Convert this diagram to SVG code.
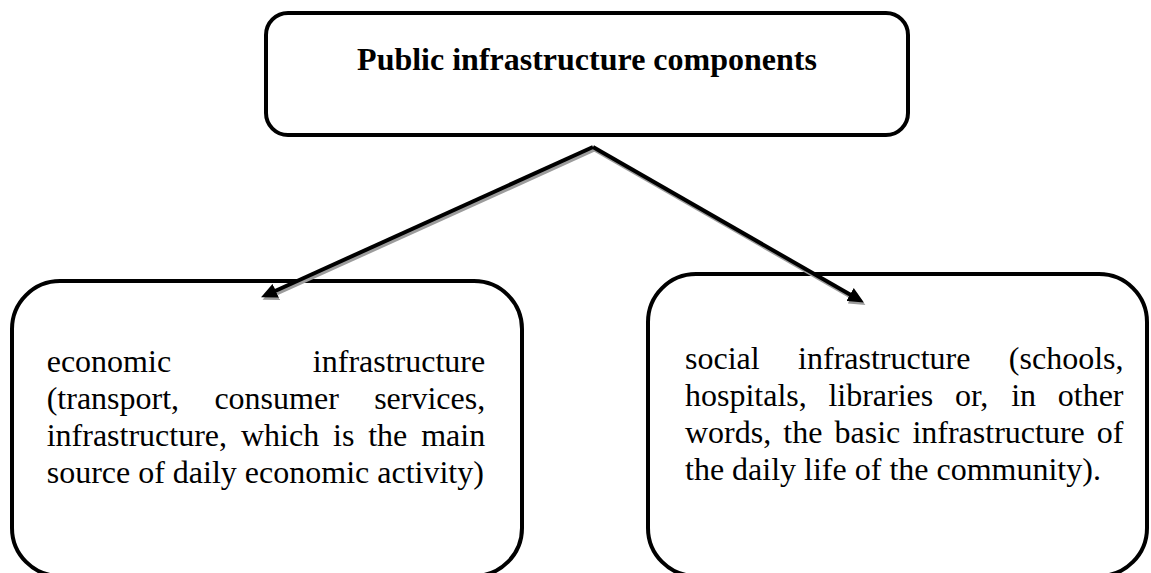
<svg xmlns="http://www.w3.org/2000/svg" width="1151" height="573" viewBox="0 0 1151 573">
  <style>
    .box { fill: #ffffff; stroke: #000000; stroke-width: 4; }
    .title { font-family: "Liberation Serif", "Times New Roman", serif; font-size: 32px; font-weight: bold; fill: #000000; }
    .body { font-family: "Liberation Serif", "Times New Roman", serif; font-size: 32px; fill: #000000; }
    .link { fill: none; stroke: #000000; stroke-width: 4; stroke-linejoin: miter; }
    .link-shadow { fill: none; stroke: #9c9c9c; stroke-width: 4; }
  </style>
  <defs>
    <marker id="head" markerUnits="userSpaceOnUse" viewBox="0 0 16 15" markerWidth="16" markerHeight="15" refX="3" refY="7.5" orient="auto">
      <path d="M0,0 L16,7.5 L0,15 Z" fill="#000000"/>
    </marker>
    <marker id="head-shadow" markerUnits="userSpaceOnUse" viewBox="0 0 16 15" markerWidth="16" markerHeight="15" refX="3" refY="7.5" orient="auto">
      <path d="M0,0 L16,7.5 L0,15 Z" fill="#9c9c9c"/>
    </marker>
  </defs>

  <rect width="1151" height="573" fill="#ffffff"/>

  <!-- root node -->
  <g id="node-components">
    <rect class="box" x="266" y="13" width="642" height="122" rx="22" ry="22"/>
    <text class="title" x="587" y="70" text-anchor="middle">Public infrastructure components</text>
  </g>

  <!-- economic branch -->
  <g id="node-economic">
    <rect class="box" x="12" y="281" width="510" height="295" rx="48" ry="48"/>
    <text class="body" y="372"><tspan x="46.7">economic</tspan><tspan x="485.2" text-anchor="end">infrastructure</tspan></text>
    <text class="body" y="409"><tspan x="46.7">(transport,</tspan><tspan x="214.4">consumer</tspan><tspan x="485.2" text-anchor="end">services,</tspan></text>
    <text class="body" y="446"><tspan x="46.7">infrastructure,</tspan><tspan x="241">which</tspan><tspan x="333">is</tspan><tspan x="368.2">the</tspan><tspan x="485.2" text-anchor="end">main</tspan></text>
    <text class="body" x="46.7" y="483">source of daily economic activity)</text>
  </g>

  <!-- social branch -->
  <g id="node-social">
    <rect class="box" x="648" y="274" width="499" height="302" rx="48" ry="48"/>
    <text class="body" y="369"><tspan x="685">social</tspan><tspan x="798.1">infrastructure</tspan><tspan x="1123.5" text-anchor="end">(schools,</tspan></text>
    <text class="body" y="406"><tspan x="685">hospitals,</tspan><tspan x="828.4">libraries</tspan><tspan x="954.9">or,</tspan><tspan x="1011.2">in</tspan><tspan x="1123.5" text-anchor="end">other</tspan></text>
    <text class="body" y="443"><tspan x="685">words,</tspan><tspan x="783.3">the</tspan><tspan x="834.5">basic</tspan><tspan x="912.4">infrastructure</tspan><tspan x="1123.5" text-anchor="end">of</tspan></text>
    <text class="body" x="685" y="480">the daily life of the community).</text>
  </g>

  <!-- connectors: shadow first, then the black strokes on top -->
  <g id="connectors">
    <g transform="translate(1.5,2.5)">
      <path class="link-shadow" d="M593,147 L272.9,292" marker-end="url(#head-shadow)"/>
      <path class="link-shadow" d="M593,147 L852.6,296" marker-end="url(#head-shadow)"/>
    </g>
    <path class="link" d="M593,147 L272.9,292" marker-end="url(#head)"/>
    <path class="link" d="M593,147 L852.6,296" marker-end="url(#head)"/>
  </g>
</svg>
